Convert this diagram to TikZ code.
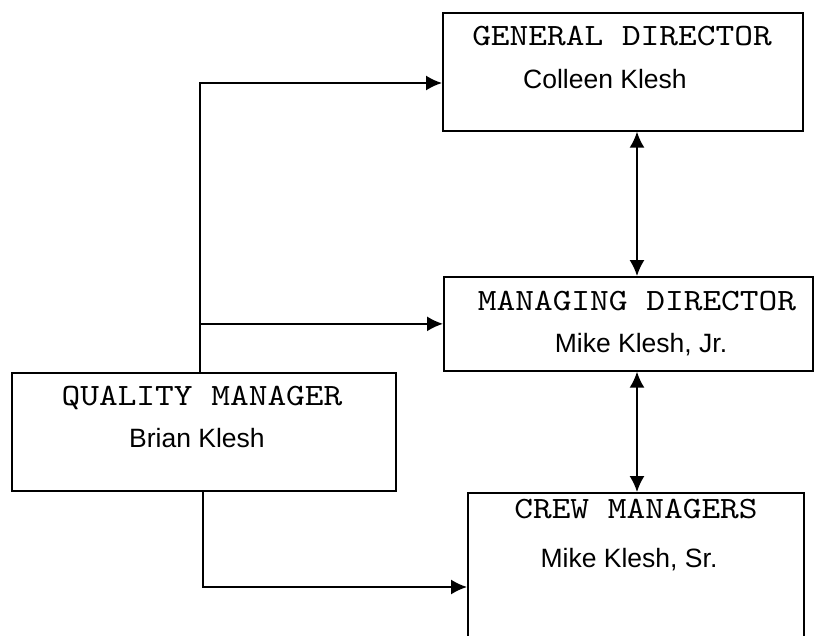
\documentclass[tikz,border=0pt]{standalone}
\usepackage{fontspec}
\setmainfont{Liberation Sans}
\newfontfamily\titlefont{lmmono10-regular.otf}[FakeStretch=1.15]
\usetikzlibrary{positioning, arrows.meta}
\tikzset{
  box/.style={draw, line width=1.7pt, inner sep=0pt, anchor=north west},
  titletext/.style={font=\titlefont\fontsize{31}{31}\selectfont, anchor=base, inner sep=0pt},
  persontext/.style={font=\fontsize{26.5}{26.5}\selectfont, anchor=base, inner sep=0pt},
  link/.style={line width=1.7pt, -{Latex[length=16pt,width=15pt]}},
  twoway/.style={line width=1.7pt, {Latex[length=16pt,width=15pt]}-{Latex[length=16pt,width=15pt]}}
}

\begin{document}
\begin{tikzpicture}[x=1pt, y=-1pt]
  \clip (0,0) rectangle (817,635);
  \fill[white] (0,0) rectangle (817,635);

  % boxes
  \node[box, minimum width=360pt, minimum height=118pt] (gd) at (442,12) {};
  \node[box, minimum width=369pt, minimum height=94pt] (md) at (443,276) {};
  \node[box, minimum width=384pt, minimum height=118pt] (qm) at (11,372) {};
  \node[box, minimum width=336pt, minimum height=168pt] (cm) at (467,492) {};

  % texts
  \node[titletext] (gdtitle) at (622,45) {GENERAL DIRECTOR};
  \node[persontext] (gdname) at (605,88) {Colleen Klesh};
  \node[titletext] (mdtitle) at (637,310) {MANAGING DIRECTOR};
  \node[persontext] (mdname) at (641,352) {Mike Klesh, Jr.};
  \node[titletext] (qmtitle) at (202,405) {QUALITY MANAGER};
  \node[persontext] (qmname) at (197,447) {Brian Klesh};
  \node[titletext] (cmtitle) at (636,518) {CREW MANAGERS};
  \node[persontext] (cmname) at (629,567) {Mike Klesh, Sr.};

  % connectors
  \coordinate (upx) at (200,0);
  \coordinate (downx) at (203,0);
  \coordinate (midx) at (637,0);
  \coordinate (gdrow) at (0,83);
  \coordinate (cmrow) at (0,587);

  \draw[link] (qm.north -| upx) |- (gd.west |- gdrow);
  \draw[link] (md.west -| upx) -- (md.west);
  \draw[link] (qm.south -| downx) |- (cm.west |- cmrow);
  \draw[twoway] (gd.south -| midx) -- (md.north -| midx);
  \draw[twoway] (md.south -| midx) -- (cm.north -| midx);
\end{tikzpicture}
\end{document}
